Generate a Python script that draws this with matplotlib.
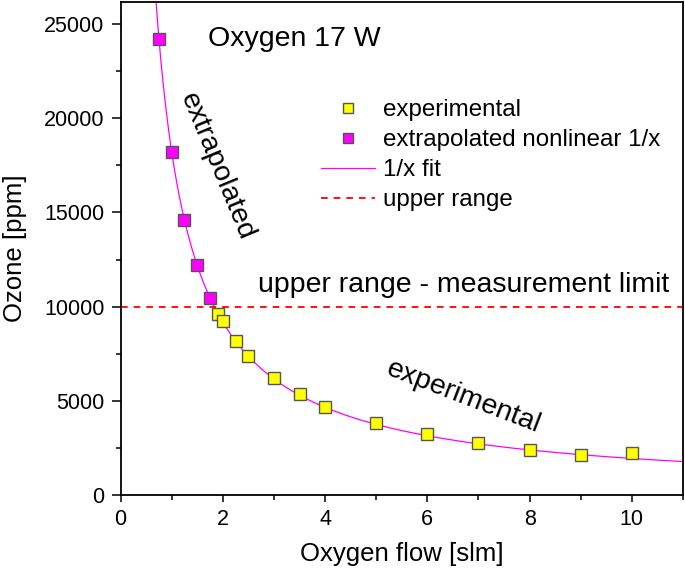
import numpy as np
import matplotlib
matplotlib.use("Agg")
import matplotlib.pyplot as plt
from matplotlib.ticker import MultipleLocator

plt.rcParams['font.family'] = ['Liberation Sans', 'DejaVu Sans']

# ---- data ----
exp_flow = [1.9, 2.0, 2.25, 2.5, 3.0, 3.5, 4.0, 5.0, 6.0, 7.0, 8.0, 9.0, 10.0]
exp_ozone = [9620, 9230, 8170, 7390, 6200, 5350, 4680, 3790, 3220, 2730, 2390, 2130, 2200]

extra_flow = [0.75, 1.0, 1.25, 1.5, 1.75]
extra_ozone = [24200, 18200, 14600, 12200, 10450]

# 1/x fit parameters: ozone = fit_a / flow + fit_b
fit_a = 18100
fit_b = 120
upper_limit = 10000

fig = plt.figure(figsize=(6.85, 5.72), dpi=100)
ax = fig.add_axes([0.176, 0.135, 0.821, 0.862])

xf = np.linspace(0.6, 11, 400)
ax.plot(xf, fit_a / xf + fit_b, color='#ff00ff', lw=0.9, label='1/x fit', zorder=2)
ax.axhline(upper_limit, color='#ff0000', lw=1.3, dashes=(3.7, 3.3), label='upper range', zorder=2)

ax.plot(exp_flow, exp_ozone, 's', ms=8, mfc='#ffff00', mec='#555555', mew=1.0,
        ls='none', label='experimental', zorder=3)
ax.plot(extra_flow, extra_ozone, 's', ms=8, mfc='#ff00ff', mec='#555555', mew=1.0,
        ls='none', label='extrapolated nonlinear 1/x', zorder=3)

ax.set_xlim(0, 11)
ax.set_ylim(0, 26200)
ax.xaxis.set_major_locator(MultipleLocator(2))
ax.xaxis.set_minor_locator(MultipleLocator(1))
ax.yaxis.set_major_locator(MultipleLocator(5000))
ax.yaxis.set_minor_locator(MultipleLocator(2500))
ax.tick_params(which='major', direction='out', width=1.1, labelsize=15.5)
ax.tick_params(axis='x', which='major', length=5, pad=5)
ax.tick_params(axis='y', which='major', length=6.5, pad=5)
ax.tick_params(which='minor', direction='out', length=3.5, width=1.1)
for s in ax.spines.values():
    s.set_linewidth(1.3)

ax.set_xlabel('Oxygen flow [slm]', fontsize=18.5, labelpad=9)
ax.set_ylabel('Ozone [ppm]', fontsize=18.5, labelpad=12)

ax.text(1.71, 24200, 'Oxygen 17 W', fontsize=20.5, ha='left', va='center')
ax.text(2.69, 11130, 'upper range - measurement limit', fontsize=20.5, ha='left', va='center')
ax.text(1.88, 17420, 'extrapolated', fontsize=20.5, rotation=-67.5,
        ha='center', va='center', rotation_mode='anchor')
ax.text(6.71, 5190, 'experimental', fontsize=20.5, rotation=-21,
        ha='center', va='center', rotation_mode='anchor')

handles, labels = ax.get_legend_handles_labels()
order = [2, 3, 0, 1]
ax.legend([handles[i] for i in order], [labels[i] for i in order],
          loc='upper left', bbox_to_anchor=(0.356, 0.802), frameon=False,
          fontsize=17.4, handlelength=2.23, handletextpad=0.33, markerscale=0.95,
          labelspacing=0.33, borderpad=0, borderaxespad=0)

fig.savefig('out.png', dpi=100)
